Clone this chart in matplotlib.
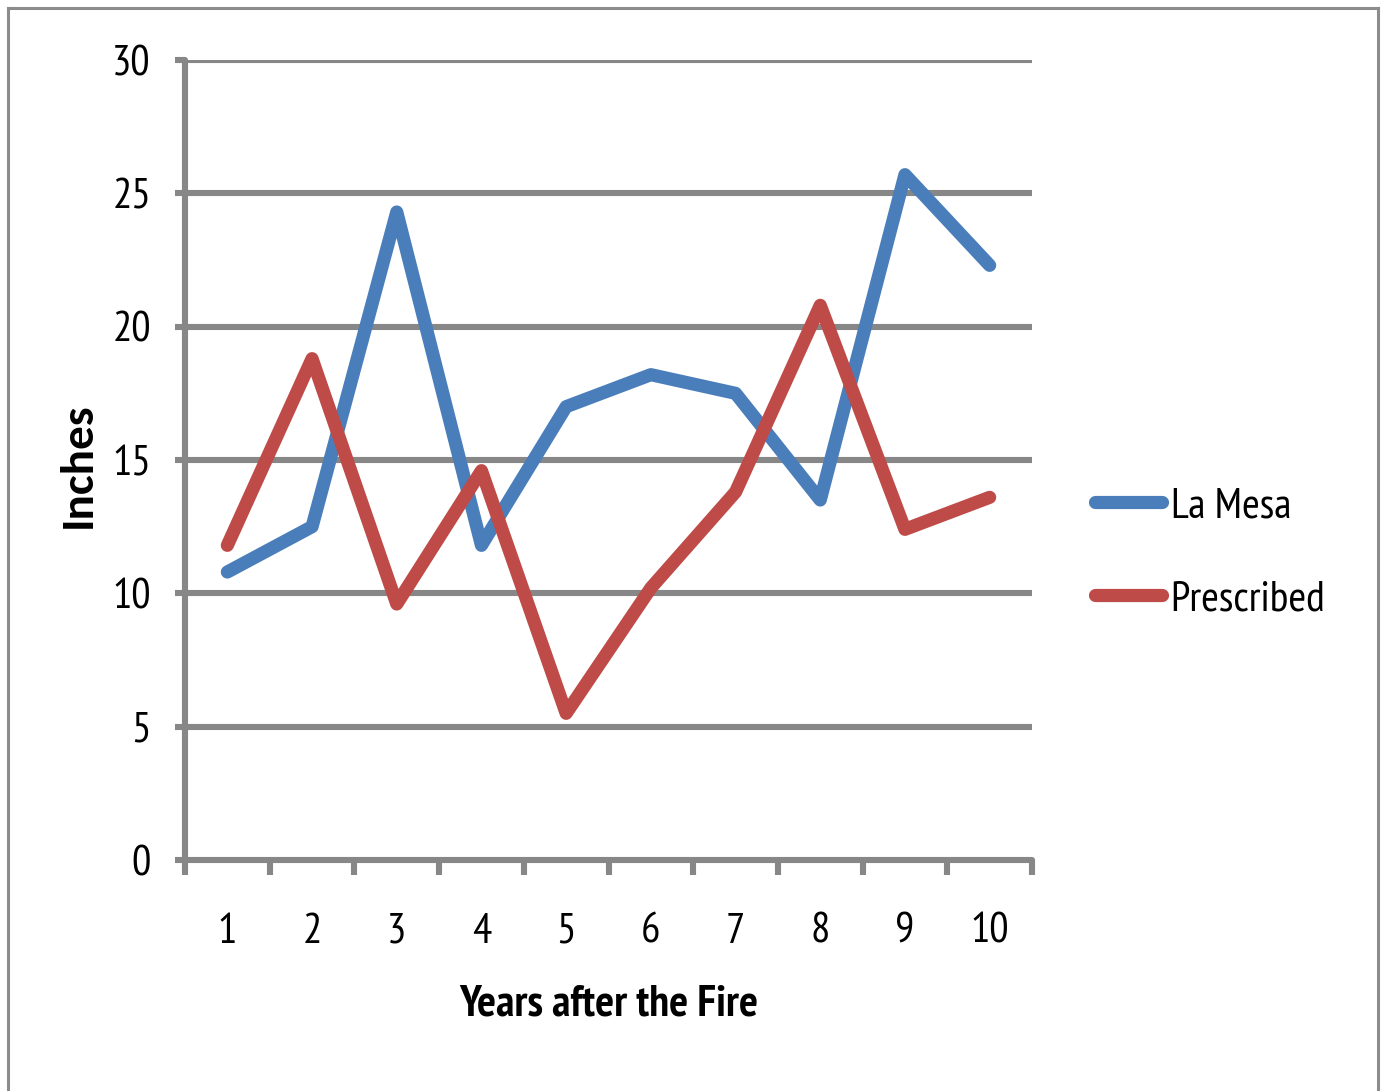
import matplotlib
matplotlib.use("Agg")
import matplotlib.pyplot as plt
from matplotlib.lines import Line2D

years = [1, 2, 3, 4, 5, 6, 7, 8, 9, 10]
la_mesa = [10.8, 12.5, 24.3, 11.8, 17.0, 18.2, 17.5, 13.5, 25.7, 22.3]
prescribed = [11.8, 18.8, 9.6, 14.6, 5.5, 10.2, 13.8, 20.8, 12.4, 13.6]
yticks = [0, 5, 10, 15, 20, 25, 30]

FONT = ["PT Sans Narrow", "Carlito", "DejaVu Sans"]
plt.rcParams["font.family"] = FONT

GRAY = "#878787"
BLUE = "#4A7EBB"
RED = "#BE4B48"

W, H = 1382, 1091
fig = plt.figure(figsize=(W / 100, H / 100), dpi=100)

# outer chart border
for xs, ys in [((8, 8), (1100, 8)), ((8, 1378), (8, 8)), ((1378, 1378), (8, 1100))]:
    fig.add_artist(Line2D([x / W for x in xs], [1 - y / H for y in ys],
                          transform=fig.transFigure, color="#8C8C8C", lw=2.2))

left, right, top, bottom = 185, 1032, 60, 860
ax = fig.add_axes([left / W, 1 - bottom / H, (right - left) / W, (bottom - top) / H])

ax.plot(years, la_mesa, color=BLUE, lw=9.5, solid_capstyle="round",
        solid_joinstyle="round", label="La Mesa", zorder=3)
ax.plot(years, prescribed, color=RED, lw=9.5, solid_capstyle="round",
        solid_joinstyle="round", label="Prescribed", zorder=3)

ax.set_xlim(0.5, 10.5)
ax.set_ylim(0, 30)
ax.set_yticks(yticks)
ax.set_yticklabels([str(v) for v in yticks])
ax.set_xticks(years)
ax.set_xticklabels([str(v) for v in years])
ax.set_xticks([y + 0.5 for y in [0] + years], minor=True)

for v in yticks[1:]:
    ax.axhline(v, color=GRAY, lw=4.4, solid_capstyle="round", zorder=1)

for s in ["top", "right"]:
    ax.spines[s].set_visible(False)
for s in ["left", "bottom"]:
    ax.spines[s].set_color(GRAY)
    ax.spines[s].set_linewidth(4.4)
    ax.spines[s].set_capstyle("round")

ax.tick_params(axis="y", which="major", length=7.5, width=4.4, color=GRAY,
               labelsize=31, pad=17)
ax.tick_params(axis="x", which="major", length=0, labelsize=31, pad=38)
ax.tick_params(axis="x", which="minor", length=11, width=4.4, color=GRAY)

ax.set_xlabel("Years after the Fire", fontsize=32, fontweight="bold")
ax.xaxis.set_label_coords(0.5, -0.155)
ax.set_ylabel("Inches", fontsize=34, fontweight="bold", va="center",
              family=["Carlito", "DejaVu Sans"])
ax.yaxis.set_label_coords(-0.127, 0.494)

leg = ax.legend(loc="center left", bbox_to_anchor=(1078 / W, 1 - 553 / H),
                bbox_transform=fig.transFigure, frameon=False, fontsize=31,
                handlelength=1.55, handletextpad=0.2, labelspacing=1.25,
                borderaxespad=0)

fig.savefig("out.png", dpi=100)
